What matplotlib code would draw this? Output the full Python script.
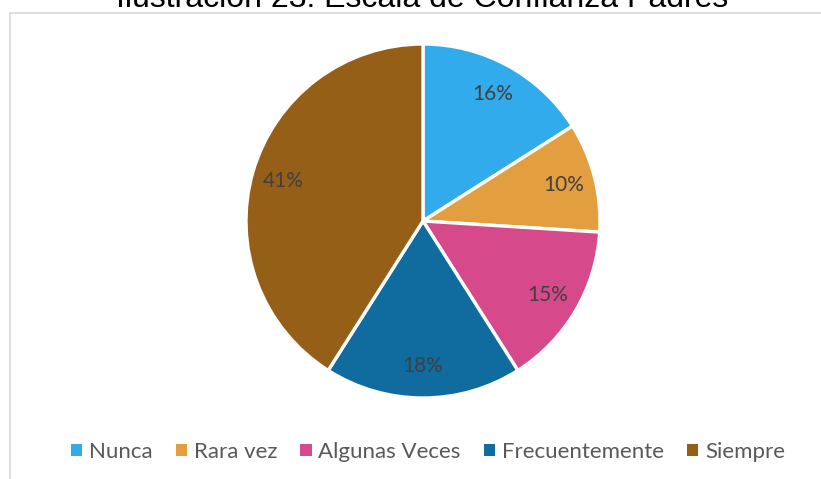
import matplotlib
matplotlib.use('Agg')
import matplotlib.pyplot as plt
from matplotlib.lines import Line2D
from matplotlib.patches import Patch

# datos del grafico
categorias = ['Nunca', 'Rara vez', 'Algunas Veces', 'Frecuentemente', 'Siempre']
porcentajes = [16, 10, 15, 18, 41]
colores = ['#31ABEB', '#E39E40', '#D64A8B', '#106B9E', '#955F17']
titulo = 'Ilustración 23: Escala de Confianza Padres'

W, H = 821, 479
fig = plt.figure(figsize=(W / 100, H / 100), dpi=100)

# centro del pastel (423, 221) y radio 177 px
cx, cy, r = 423, 221, 177
ax = fig.add_axes([(cx - r) / W, 1 - (cy + r) / H, 2 * r / W, 2 * r / H])
wedges, texts = ax.pie(porcentajes, colors=colores, startangle=90, counterclock=False,
                       radius=1, wedgeprops=dict(edgecolor='white', linewidth=2.4),
                       labels=[f'{p}%' for p in porcentajes], labeldistance=0.82)
for t in texts:
    t.set_ha('center')
    t.set_va('center')
    t.set_fontsize(15)
    t.set_color('#404040')
    t.set_family(['Lato', 'DejaVu Sans'])
ax.set_xlim(-1, 1)
ax.set_ylim(-1, 1)
ax.axis('off')

# marco del area del grafico
bx, by = 10 / W, 1 - 12.7 / H
fig.add_artist(Line2D([bx, bx], [0, by], transform=fig.transFigure, color='#d9d9d9', lw=1.2))
fig.add_artist(Line2D([bx, 1], [by, by], transform=fig.transFigure, color='#d9d9d9', lw=1.2))

# titulo (cortado arriba como en la imagen)
fig.text(422 / W, 1 - 7 / H, titulo, ha='center', va='baseline', fontsize=23,
         family='Liberation Sans', color='black')

handles = [Patch(facecolor=c, edgecolor='none') for c in colores]
fig.legend(handles, categorias, loc='center', bbox_to_anchor=(428 / W, 1 - 452 / H), ncol=5,
           frameon=False, handlelength=0.5, handleheight=0.5, handletextpad=0.3,
           columnspacing=1.05, prop={'family': 'Lato', 'size': 16}, labelcolor='#595959')

fig.savefig('out.png', dpi=100)
